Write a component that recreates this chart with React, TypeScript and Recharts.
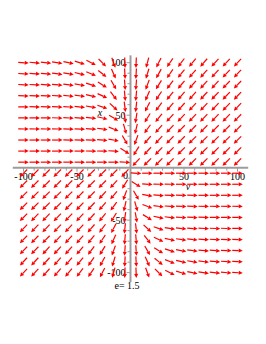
import { ScatterChart, Scatter, XAxis, YAxis, ReferenceLine } from "recharts";

// grid of the direction field (v across, x up)
const vGrid = [-100, -89.47, -78.95, -68.42, -57.89, -47.37, -36.84, -26.32, -15.79, -5.26,
  5.26, 15.79, 26.32, 36.84, 47.37, 57.89, 68.42, 78.95, 89.47, 100];
const xGrid = [100, 89.47, 78.95, 68.42, 57.89, 47.37, 36.84, 26.32, 15.79, 5.26,
  -5.26, -15.79, -26.32, -36.84, -47.37, -57.89, -68.42, -78.95, -89.47, -100];

// arrow direction in degrees (0 = right, -90 = down), one row per xGrid value
const angles = [
  [-4, -5, -6, -8, -12, -17, -27, -45, -70, -88, -92, -105, -117, -124, -127, -130, -131, -132, -133, -133],
  [-3, -4, -5, -7, -9, -14, -22, -39, -66, -87, -93, -107, -119, -125, -129, -131, -132, -133, -133, -133],
  [-3, -3, -4, -5, -7, -11, -18, -32, -60, -86, -94, -110, -122, -127, -130, -132, -133, -133, -134, -134],
  [-2, -2, -3, -4, -6, -8, -13, -25, -52, -85, -95, -114, -124, -129, -131, -132, -133, -134, -134, -134],
  [-1, -2, -2, -3, -4, -6, -10, -19, -43, -83, -96, -117, -127, -131, -132, -133, -134, -134, -134, -134],
  [-1, -1, -1, -2, -3, -4, -7, -13, -32, -80, -99, -122, -129, -132, -133, -134, -134, -134, -134, -135],
  [-1, -1, -1, -1, -2, -2, -4, -8, -21, -74, -103, -126, -131, -133, -134, -134, -135, -135, -135, -135],
  [0, 0, 0, 0, -1, -1, -2, -4, -11, -60, -110, -130, -133, -134, -134, -135, -135, -135, -135, -135],
  [0, 0, 0, 0, 0, 0, -1, -1, -4, -32, -122, -133, -134, -135, -135, -135, -135, -135, -135, -135],
  [0, 0, 0, 0, 0, 0, 0, 0, 0, -4, -133, -135, -135, -135, -135, -135, -135, -135, -135, -135],
  [-135, -135, -135, -135, -135, -135, -135, -135, -135, -133, -4, 0, 0, 0, 0, 0, 0, 0, 0, 0],
  [-135, -135, -135, -135, -135, -135, -135, -134, -133, -122, -32, -4, -1, -1, 0, 0, 0, 0, 0, 0],
  [-135, -135, -135, -135, -135, -134, -134, -133, -130, -110, -60, -11, -4, -2, -1, -1, 0, 0, 0, 0],
  [-135, -135, -135, -135, -134, -134, -133, -131, -126, -103, -74, -21, -8, -4, -2, -2, -1, -1, -1, -1],
  [-135, -134, -134, -134, -134, -133, -132, -129, -122, -99, -80, -32, -13, -7, -4, -3, -2, -1, -1, -1],
  [-134, -134, -134, -134, -133, -132, -131, -127, -117, -96, -83, -43, -19, -10, -6, -4, -3, -2, -2, -1],
  [-134, -134, -134, -133, -132, -131, -129, -124, -114, -95, -85, -52, -25, -13, -8, -6, -4, -3, -2, -2],
  [-134, -134, -133, -133, -132, -130, -127, -122, -110, -94, -86, -60, -32, -18, -11, -7, -5, -4, -3, -3],
  [-133, -133, -133, -132, -131, -129, -125, -119, -107, -93, -87, -66, -39, -22, -14, -9, -7, -5, -4, -3],
  [-133, -133, -132, -131, -130, -127, -124, -117, -105, -92, -88, -70, -45, -27, -17, -12, -8, -6, -5, -4],
];

const hTickLabels = [-100, -50, 50, 100];
const vTickLabels = [100, 50, -50, -100];
const minorTicks = [-100, -90, -80, -70, -60, -50, -40, -30, -20, -10, 10, 20, 30, 40, 50, 60, 70, 80, 90, 100];

const RED = "#ff0000";
const AXIS = "#9c9c9c";
const FONT = "'Liberation Serif', 'Times New Roman', serif";

const arrows = xGrid.flatMap((x, i) => vGrid.map((v, j) => ({ v, x, angle: angles[i][j] })));
const hTicks = minorTicks.map((v) => ({ v, x: 0, label: hTickLabels.includes(v) ? String(v) : "" }));
const vTicks = minorTicks.map((x) => ({ v: 0, x, label: vTickLabels.includes(x) ? String(x) : "" }));

function Arrow(props: any) {
  const { cx, cy, payload } = props;
  const a = (payload.angle * Math.PI) / 180;
  const ux = Math.cos(a);
  const uy = -Math.sin(a);
  const len = 10.5;
  const x1 = cx - (ux * len) / 2;
  const y1 = cy - (uy * len) / 2;
  const x2 = cx + (ux * len) / 2;
  const y2 = cy + (uy * len) / 2;
  const bx = x2 - ux * 4;
  const by = y2 - uy * 4;
  const px = -uy * 2;
  const py = ux * 2;
  return (
    <g>
      <line x1={x1} y1={y1} x2={bx} y2={by} stroke={RED} strokeWidth={1.2} />
      <polygon points={`${x2},${y2} ${bx + px},${by + py} ${bx - px},${by - py}`} fill={RED} />
    </g>
  );
}

function HTick(props: any) {
  const { cx, cy, payload } = props;
  const major = payload.label !== "";
  return (
    <g>
      <line x1={cx} y1={cy} x2={cx} y2={cy + (major ? 4 : 3)} stroke={AXIS} strokeWidth={1} />
      {major && (
        <text x={cx} y={cy + 12} textAnchor="middle" fontSize={10} fontFamily={FONT} fill="#000">
          {payload.label}
        </text>
      )}
    </g>
  );
}

function VTick(props: any) {
  const { cx, cy, payload } = props;
  const major = payload.label !== "";
  return (
    <g>
      <line x1={cx} y1={cy} x2={cx - (major ? 4 : 3)} y2={cy} stroke={AXIS} strokeWidth={1} />
      {major && (
        <text x={cx - 5} y={cy + 3.5} textAnchor="end" fontSize={10} fontFamily={FONT} fill="#000">
          {payload.label}
        </text>
      )}
    </g>
  );
}

function Origin(props: any) {
  const { cx, cy } = props;
  return (
    <text x={cx - 5} y={cy + 11} textAnchor="middle" fontSize={10} fontFamily={FONT} fill="#000">
      0
    </text>
  );
}

function AxisName(props: any) {
  const { cx, cy, payload } = props;
  return (
    <text x={cx} y={cy + 3} textAnchor="middle" fontSize={10} fontStyle="italic" fontFamily={FONT} fill="#000">
      {payload.name}
    </text>
  );
}

export default function App() {
  return (
    <div style={{ position: "relative", width: 250, height: 300 }}>
      <ScatterChart width={250} height={300} margin={{ top: 47.35, right: 9.8, bottom: 25.9, left: 4.8 }}>
        <XAxis type="number" dataKey="v" domain={[-110, 110]} hide />
        <YAxis type="number" dataKey="x" domain={[-109, 107]} hide />
        <ReferenceLine x={0} stroke={AXIS} strokeWidth={2} />
        <ReferenceLine y={0} stroke={AXIS} strokeWidth={2} />
        <Scatter data={hTicks} shape={HTick} isAnimationActive={false} />
        <Scatter data={vTicks} shape={VTick} isAnimationActive={false} />
        <Scatter data={[{ v: 0, x: 0 }]} shape={Origin} isAnimationActive={false} />
        <Scatter
          data={[{ v: -28.5, x: 52, name: "x" }, { v: 53.7, x: -18.4, name: "v" }]}
          shape={AxisName}
          isAnimationActive={false}
        />
        <Scatter data={arrows} shape={Arrow} isAnimationActive={false} />
      </ScatterChart>
      <div
        style={{
          position: "absolute",
          left: 94,
          top: 271,
          width: 50,
          textAlign: "center",
          fontSize: 10,
          lineHeight: "14px",
          fontFamily: FONT,
        }}
      >
        e= 1.5
      </div>
    </div>
  );
}
